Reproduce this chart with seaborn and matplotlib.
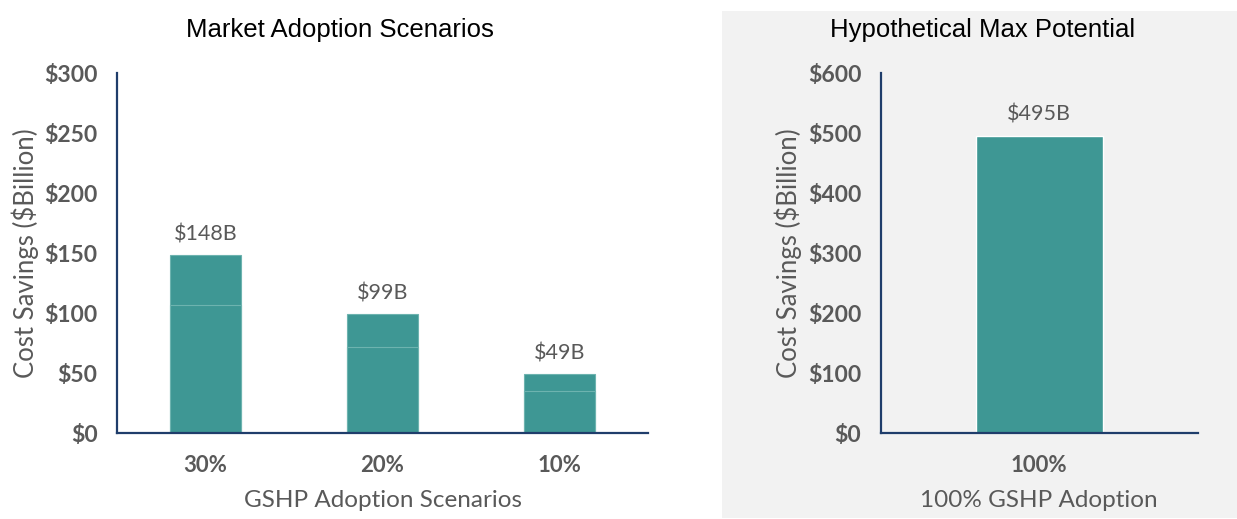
import matplotlib.pyplot as plt
import matplotlib.patches as mpatches
import seaborn as sns
import pandas as pd

# data
scenarios = ['30%', '20%', '10%']
savings_total = [148, 99, 49]
savings_lower = [107, 72, 35]   # faint split line inside each bar
scen_labels = ['$148B', '$99B', '$49B']

max_cat = ['100%']
max_total = [495]
max_labels = ['$495B']

bar_color = '#3E9794'
edge_color = '#6DB3AF'
spine_color = '#1F3D6B'
text_gray = '#595959'

sns.set_style('white')
plt.rcParams['font.family'] = ['Lato', 'DejaVu Sans']

fig = plt.figure(figsize=(12.37, 5.19), dpi=100)

# gray background behind the right panel
fig.patches.append(mpatches.Rectangle((0.5837, 0.002), 0.4163, 0.977,
                                      transform=fig.transFigure,
                                      facecolor='#F2F2F2', edgecolor='none', zorder=-5))

ax1 = fig.add_axes([0.0946, 0.1657, 0.4293, 0.6936])
ax2 = fig.add_axes([0.712, 0.1657, 0.2562, 0.6936])
ax2.set_facecolor('none')

df1 = pd.DataFrame({'scenario': scenarios, 'total': savings_total, 'lower': savings_lower})
sns.barplot(data=df1, x='scenario', y='total', color=bar_color, width=0.4,
            edgecolor=edge_color, linewidth=0.8, saturation=1, ax=ax1)
sns.barplot(data=df1, x='scenario', y='lower', color=bar_color, width=0.4,
            edgecolor=edge_color, linewidth=0.8, saturation=1, ax=ax1)

df2 = pd.DataFrame({'scenario': max_cat, 'total': max_total})
sns.barplot(data=df2, x='scenario', y='total', color=bar_color, width=1.0,
            saturation=1, ax=ax2)

for i, (v, lab) in enumerate(zip(savings_total, scen_labels)):
    ax1.annotate(lab, (i, v), xytext=(0, 8), textcoords='offset points',
                 ha='center', va='bottom', fontsize=15.5, color=text_gray)
for i, (v, lab) in enumerate(zip(max_total, max_labels)):
    ax2.annotate(lab, (i, v), xytext=(0, 8), textcoords='offset points',
                 ha='center', va='bottom', fontsize=15.5, color=text_gray)

def style(ax, ymax, step, xlim, xlabel):
    ax.set_ylim(0, ymax)
    ax.set_xlim(*xlim)
    ax.set_yticks(range(0, ymax + 1, step))
    ax.set_yticklabels([f'${t}' for t in range(0, ymax + 1, step)],
                       fontsize=16.5, fontweight='bold', color=text_gray)
    for t in ax.get_xticklabels():
        t.set_fontsize(16)
        t.set_fontweight('bold')
        t.set_color(text_gray)
    ax.tick_params(axis='y', length=0, pad=14)
    ax.tick_params(axis='x', length=0, pad=16)
    ax.set_xlabel(xlabel, fontsize=17.5, color=text_gray, labelpad=10)
    ax.set_ylabel('Cost Savings ($Billion)', fontsize=18.5, color=text_gray, labelpad=4)
    for s in ['top', 'right']:
        ax.spines[s].set_visible(False)
    for s in ['left', 'bottom']:
        ax.spines[s].set_color(spine_color)
        ax.spines[s].set_linewidth(1.6)

style(ax1, 300, 50, (-0.5, 2.5), 'GSHP Adoption Scenarios')
style(ax2, 600, 100, (-1.25, 1.25), '100% GSHP Adoption')

fig.text(0.275, 0.942, 'Market Adoption Scenarios', ha='center', va='center',
         fontsize=18.5, family='Liberation Sans', color='black')
fig.text(0.794, 0.942, 'Hypothetical Max Potential', ha='center', va='center',
         fontsize=18.5, family='Liberation Sans', color='black')

fig.savefig('out.png', dpi=100)
